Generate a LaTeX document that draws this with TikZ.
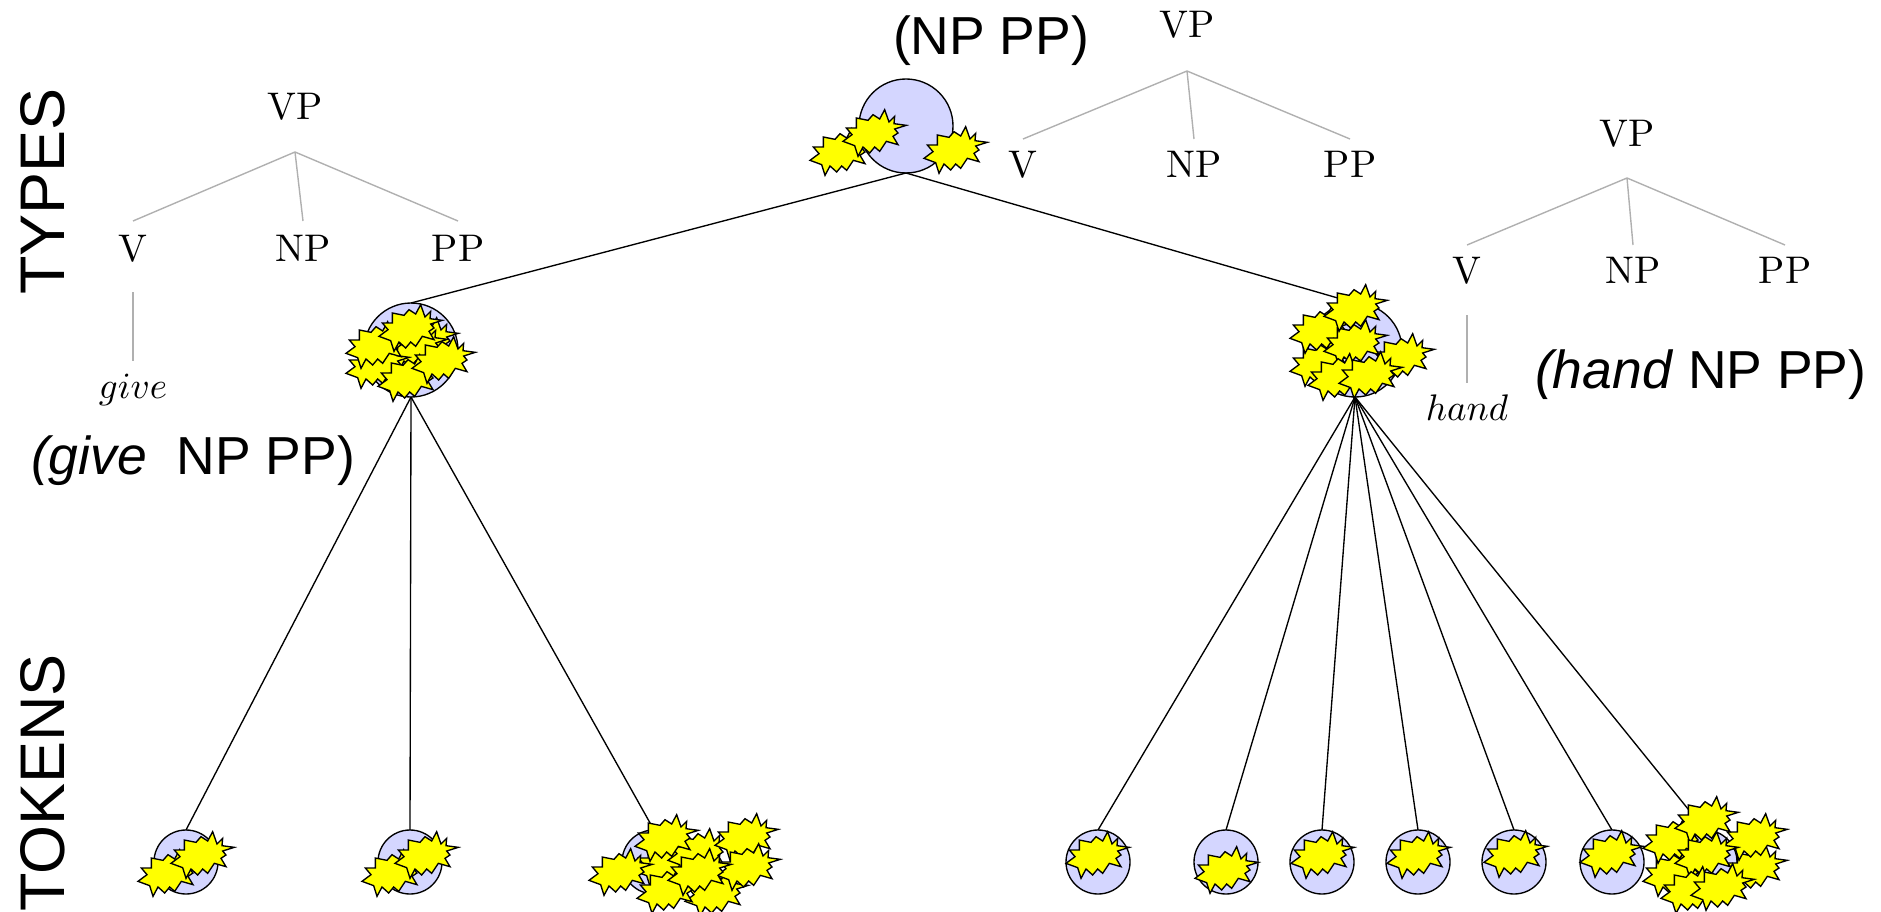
\documentclass[tikz,border=0pt]{standalone}
\usepackage{graphicx}
\usepackage{fontspec}
\newfontfamily\arial{Liberation Sans}
\newcommand{\treeword}[1]{\scalebox{3.7}{\normalsize$#1$}}
\newcommand{\treecat}[1]{\scalebox{3.85}{\normalsize #1}}
\definecolor{typefill}{HTML}{D4D6FF}
\definecolor{burstfill}{HTML}{FFFF00}
\definecolor{treegrey}{HTML}{B0B0B0}
\tikzset{
  x=1pt,y=-1pt,
  burstline/.style={draw=black,fill=burstfill,line width=1.35pt,miter limit=6,scale=0.3333},
  burst/.pic={\path[burstline] (97,-23)--(62,-12)--(72,0)--(57,10)--(72,35)--(37,25)--(17,55)--(2,42)--(-13,60)--(-33,42)--(-48,70)--(-58,38)--(-93,25)--(-66,5)--(-83,-15)--(-53,-15)--(-53,-45)--(-18,-38)--(-3,-55)--(17,-42)--(32,-70)--(45,-33)--(62,-50)--(60,-28)--cycle;},
  big/.style={circle,draw=black,fill=typefill,line width=1.35pt,minimum size=94pt,inner sep=0pt,outer sep=0pt},
  small/.style={circle,draw=black,fill=typefill,line width=1.35pt,minimum size=64pt,inner sep=0pt,outer sep=0pt},
  conn/.style={draw=black,line width=1.35pt},
  treeline/.style={draw=treegrey,line width=1.4pt},
  treelabel/.style={anchor=base,inner sep=0pt,outer sep=0pt,text height=27pt,text depth=0pt},
  caption/.style={anchor=base west,inner sep=0pt,outer sep=0pt,font=\arial\fontsize{53.5}{60}\selectfont},
  sidelabel/.style={anchor=base east,rotate=90,inner sep=0pt,outer sep=0pt,font=\arial\fontsize{63}{70}\selectfont}
}
\begin{document}
\begin{tikzpicture}
\useasboundingbox (0,0) rectangle (1881,912);
% side labels
\node[sidelabel] (types) at (64,88) {TYPES};
\node[sidelabel] (tokens) at (64,654) {TOKENS};
% captions
\node[caption] (capnp) at (893,55) {(NP PP)};
\node[caption] (capgive) at (31,474) {\textit{(give}\ \ NP PP)};
\node[caption] (caphand) at (1535,388) {\textit{(hand} NP PP)};
% tree 1
\node[treelabel] (vpa) at (295,120) {\treecat{VP}};
\node[treelabel] (va) at (133,261) {\treecat{V}};
\node[treelabel] (npa) at (303,261) {\treecat{NP}};
\node[treelabel] (ppa) at (458,261) {\treecat{PP}};
\node[treelabel] (give) at (133,398) {\treeword{give}};
\foreach \n in {va,npa,ppa}
  \draw[treeline] ([yshift=-32pt]vpa.south) -- ([yshift=13pt]\n.north);
\draw[treeline] ([yshift=-31pt]va.south) -- ([yshift=10pt]give.north);
% tree 2
\node[treelabel] (vpb) at (1187,38) {\treecat{VP}};
\node[treelabel] (vb) at (1023,178) {\treecat{V}};
\node[treelabel] (npb) at (1194,178) {\treecat{NP}};
\node[treelabel] (ppb) at (1350,178) {\treecat{PP}};
\foreach \n in {vb,npb,ppb}
  \draw[treeline] ([yshift=-33pt]vpb.south) -- ([yshift=12pt]\n.north);
% tree 3
\node[treelabel] (vpc) at (1627,147) {\treecat{VP}};
\node[treelabel] (vc) at (1467,283) {\treecat{V}};
\node[treelabel] (npc) at (1633,283) {\treecat{NP}};
\node[treelabel] (ppc) at (1785,283) {\treecat{PP}};
\node[treelabel] (hand) at (1467,420) {\treeword{hand}};
\foreach \n in {vc,npc,ppc}
  \draw[treeline] ([yshift=-31pt]vpc.south) -- ([yshift=11pt]\n.north);
\draw[treeline] ([yshift=-32pt]vc.south) -- ([yshift=10pt]hand.north);
% circles
\node[big] (top) at (906,126) {};
\node[big] (left) at (411,350) {};
\node[big] (right) at (1355,350) {};
\node[small] (ta) at (186,862) {};
\node[small] (tb) at (410,862) {};
\node[small] (tc) at (654,862) {};
\node[small] (td) at (1098,862) {};
\node[small] (te) at (1226,862) {};
\node[small] (tf) at (1322,862) {};
\node[small] (tg) at (1418,862) {};
\node[small] (th) at (1514,862) {};
\node[small] (ti) at (1612,862) {};
\node[small] (tj) at (1705,862) {};
% connectors
\draw[conn] (top.south) -- (left.north);
\draw[conn] (top.south) -- (right.north);
\foreach \n in {ta,tb,tc} \draw[conn] (left.south) -- (\n.north);
\foreach \n in {td,te,tf,tg,th,ti,tj} \draw[conn] (right.south) -- (\n.north);
% bursts: top
\foreach \p in {(841,152),(874,133),(955,150)} \pic at \p {burst};
% bursts: left group
\foreach \p in {(426,341),(415,347),(377,365),(377,345),(410,328),(409,378),(443,360)} \pic at \p {burst};
% bursts: right group
\foreach \p in {(1402,357),(1321,363),(1321,330),(1355,343),(1355,308),(1339,377),(1370,375)} \pic at \p {burst};
% bursts: tokens
\foreach \p in {(169,873),(202,855),(393,873),(426,855)} \pic at \p {burst};
\foreach \p in {(666,863),(699,852),(716,893),(620,872),(666,838),(668,890),(746,837),(748,867),(699,872)} \pic at \p {burst};
\foreach \p in {(1097,855),(1226,870),(1322,855),(1418,855),(1515,854),(1611,854)} \pic at \p {burst};
\foreach \p in {(1755,868),(1755,837),(1674,873),(1674,840),(1706,820),(1706,855),(1692,890),(1722,887)} \pic at \p {burst};
\end{tikzpicture}
\end{document}
